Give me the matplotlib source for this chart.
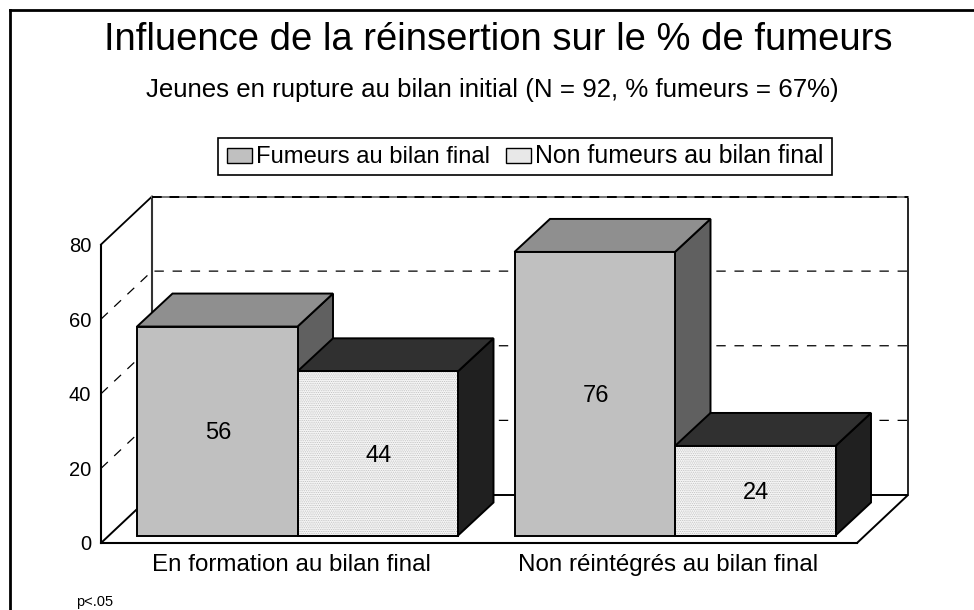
import numpy as np
import matplotlib
matplotlib.use('Agg')
import matplotlib.pyplot as plt
from matplotlib.patches import Polygon, Rectangle
from matplotlib.lines import Line2D

plt.rcParams['font.family'] = ['Liberation Sans', 'DejaVu Sans']
plt.rcParams['hatch.linewidth'] = 0.5

# donnees
categories = ['En formation au bilan final', 'Non réintégrés au bilan final']
fumeurs = [56, 76]
non_fumeurs = [44, 24]
series_names = ['Fumeurs au bilan final', 'Non fumeurs au bilan final']
yticks = [0, 20, 40, 60, 80]
title = 'Influence de la réinsertion sur le % de fumeurs'
subtitle = 'Jeunes en rupture au bilan initial (N = 92, % fumeurs = 67%)'
note = 'p<.05'

W, H = 974, 610
fig = plt.figure(figsize=(W / 100, H / 100), dpi=100)

# axe = plan avant du graphique (pixels 101..857 en x, 543..244.5 en y)
ax = fig.add_axes([101 / W, 1 - 543 / H, 756 / W, 298.5 / H])
px_x = 377.5  # pixels par categorie
px_y = 298.5 / 80
ax.set_xlim((101 - 291) / px_x, (857 - 291) / px_x)
ax.set_ylim(0, 80)
for s in ax.spines.values():
    s.set_visible(False)
ax.patch.set_visible(False)

bar_w = 160.5 / px_x
wall_dx = 51 / px_x
wall_dy = 48 / px_y
bar_dx = 35.5 / px_x
bar_dy = 33 / px_y
off_x = 6.5 / px_x
off_y = 7.5 / px_y
x0, x1 = ax.get_xlim()


def poly(pts, fc='none', ec='k', lw=1.4, z=1, **kw):
    ax.add_patch(Polygon(pts, closed=True, facecolor=fc, edgecolor=ec, linewidth=lw,
                         zorder=z, clip_on=False, **kw))


# parois et sol
poly([(x0, 0), (x0 + wall_dx, wall_dy), (x1 + wall_dx, wall_dy), (x1, 0)], lw=1.4, z=1)
ax.plot([x0, x1], [0, 0], color='k', lw=1.5, zorder=2, clip_on=False)
ax.plot([x0, x0], [0, 80], color='k', lw=1.5, zorder=2, clip_on=False)
ax.plot([x0, x0 + wall_dx], [80, 80 + wall_dy], color='k', lw=1.3, zorder=2, clip_on=False)
ax.plot([x0 + wall_dx, x0 + wall_dx], [wall_dy, 80 + wall_dy], color='#333333', lw=1.5, zorder=2, clip_on=False)
ax.plot([x1 + wall_dx, x1 + wall_dx], [wall_dy, 80 + wall_dy], color='k', lw=1.2, zorder=2, clip_on=False)
ax.plot([x0 + wall_dx, x1 + wall_dx], [80 + wall_dy] * 2, color='#777777', lw=1.4, zorder=2, clip_on=False)
ax.plot([x0 + wall_dx, x1 + wall_dx], [80 + wall_dy] * 2, color='k', lw=1.4, zorder=2, clip_on=False,
        dashes=(5, 4))

# grille pointillee
for v in yticks[1:-1]:
    ax.plot([x0, x0 + wall_dx, x1 + wall_dx], [v, v + wall_dy, v + wall_dy], color='k', lw=0.9,
            dashes=(7.5, 7), zorder=2, clip_on=False)


def bar3d(left, val, front, front_hatch, top, side, z):
    b = off_y
    r = left + bar_w
    t = b + val
    poly([(r, b), (r + bar_dx, b + bar_dy), (r + bar_dx, t + bar_dy), (r, t)], fc=side, z=z)
    poly([(left, t), (left + bar_dx, t + bar_dy), (r + bar_dx, t + bar_dy), (r, t)], fc=top, z=z)
    ax.add_patch(Rectangle((left, b), bar_w, val, facecolor=front, edgecolor='k', linewidth=1.4,
                           zorder=z, clip_on=False))
    if front_hatch:
        ax.add_patch(Rectangle((left, b), bar_w, val, facecolor='none', edgecolor='#bbbbbb', linewidth=0,
                               hatch=front_hatch, zorder=z, clip_on=False))
        ax.add_patch(Rectangle((left, b), bar_w, val, facecolor='none', edgecolor='k', linewidth=1.4,
                               zorder=z, clip_on=False))
    ax.text(left + bar_w / 2 + 1 / px_x, b + val / 2 - 0.6, str(val), ha='center', va='center', fontsize=17,
            color='k', zorder=z + 0.5)


for i in range(len(categories)):
    c = i + off_x
    bar3d(c - bar_w, fumeurs[i], '#c0c0c0', None, '#8f8f8f', '#606060', 3 + i * 2)
    bar3d(c, non_fumeurs[i], '#f6f6f6', '.........', '#303030', '#202020', 4 + i * 2)

ax.set_xticks(range(len(categories)))
ax.set_xticklabels(categories, fontsize=17.4)
ax.set_yticks(yticks)
ax.set_yticklabels([str(v) for v in yticks], fontsize=14.5)
ax.tick_params(axis='both', length=0)
ax.tick_params(axis='x', pad=8)
ax.tick_params(axis='y', pad=7)

# titres
fig.text(498.5 / W, 1 - 40 / H, title, ha='center', va='center', fontsize=27.5)
fig.text(492.5 / W, 1 - 90 / H, subtitle, ha='center', va='center', fontsize=18.6)
fig.text(76 / W, 1 - 602 / H, note, ha='left', va='center', fontsize=10.5)

# legende : cadre trace a part pour garder la hauteur de la reference
fig.add_artist(Rectangle((218 / W, 1 - 175 / H), 614 / W, 37 / H, facecolor='white', edgecolor='k', linewidth=1.2,
                         transform=fig.transFigure, zorder=5))
h1 = Rectangle((0, 0), 1, 1, facecolor='#c0c0c0', edgecolor='k', linewidth=1)
h2 = Rectangle((0, 0), 1, 1, facecolor='#e8e8e8', edgecolor='k', linewidth=1)
leg = fig.legend([h1, h2], series_names, ncols=2, loc='center', bbox_to_anchor=(525 / W, 1 - 156.5 / H),
                 fontsize=17.1, frameon=False, handlelength=1.05, handleheight=0.6, handletextpad=0.17,
                 columnspacing=0.67, borderpad=0.2, borderaxespad=0)
leg.set_zorder(6)
leg.get_texts()[1].set_fontsize(17.9)

# cadre
fig.add_artist(Line2D([10 / W, 10 / W], [0, 1 - 10 / H], color='k', lw=2, transform=fig.transFigure))
fig.add_artist(Line2D([10 / W, 1], [1 - 10 / H, 1 - 10 / H], color='k', lw=2, transform=fig.transFigure))

fig.savefig('out.png', dpi=100)
